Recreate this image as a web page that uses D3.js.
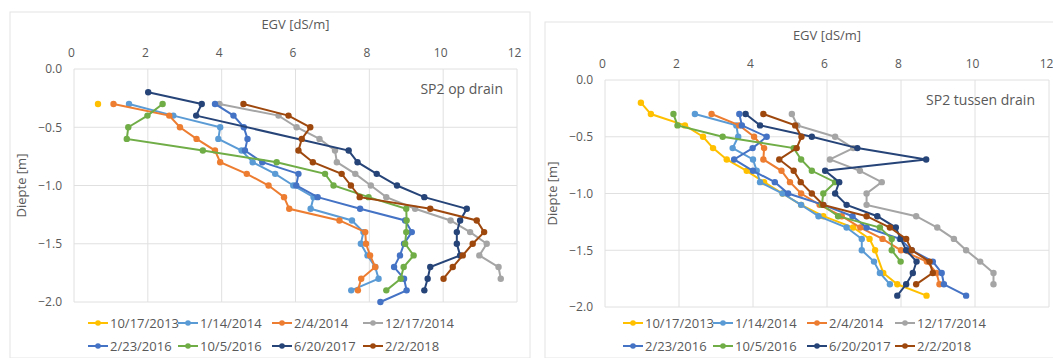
<!DOCTYPE html>
<html><head><meta charset="utf-8">
<script src="https://cdn.jsdelivr.net/npm/d3@7"></script>
<style>body{margin:0;background:#fff}svg{display:block;font-family:"Open Sans",sans-serif}</style>
</head><body><svg id="c" width="1053" height="358"></svg>
<script>
const dates = ["10/17/2013","1/14/2014","2/4/2014","12/17/2014","2/23/2016","10/5/2016","6/20/2017","2/2/2018"];
const colors = ["#FFC000","#5B9BD5","#ED7D31","#A5A5A5","#4472C4","#70AD47","#264478","#9E480E"];
const xTicks = [0,2,4,6,8,10,12];
const yTicks = [0,-0.5,-1,-1.5,-2];

// SP2 op drain : [EGV, depth]
const op_20131017 = [[0.65,-0.3]];
const op_20140114 = [[1.49,-0.3],[2.69,-0.4],[3.96,-0.5],[3.91,-0.6],[4.54,-0.7],[4.84,-0.8],[5.45,-0.9],[5.94,-1.0],[6.49,-1.1],[6.41,-1.2],[7.53,-1.3],[7.84,-1.4],[7.77,-1.5],[7.95,-1.6],[8.16,-1.7],[8.25,-1.8],[7.51,-1.9]];
const op_20140204 = [[1.07,-0.3],[2.58,-0.4],[2.87,-0.5],[3.32,-0.6],[3.82,-0.7],[3.96,-0.8],[4.68,-0.9],[5.27,-1.0],[5.69,-1.1],[5.83,-1.2],[7.19,-1.3],[7.89,-1.4],[7.91,-1.5],[8.02,-1.6],[8.16,-1.7],[7.78,-1.8],[7.69,-1.9]];
const op_20141217 = [[3.94,-0.3],[5.54,-0.4],[6.03,-0.5],[6.65,-0.6],[7.07,-0.7],[7.12,-0.8],[7.62,-0.9],[8.04,-1.0],[8.46,-1.1],[9.24,-1.2],[10.2,-1.3],[10.73,-1.4],[11.18,-1.5],[10.98,-1.6],[11.5,-1.7],[11.56,-1.8]];
const op_20160223 = [[3.82,-0.3],[4.32,-0.4],[4.6,-0.5],[4.7,-0.6],[4.63,-0.7],[5.1,-0.8],[6.08,-0.9],[6.02,-1.0],[6.6,-1.1],[7.75,-1.2],[8.97,-1.3],[9.15,-1.4],[8.94,-1.5],[8.83,-1.6],[8.67,-1.7],[8.94,-1.8],[9.01,-1.9],[8.3,-2.0]];
const op_20161005 = [[2.40,-0.3],[1.99,-0.4],[1.47,-0.5],[1.43,-0.6],[3.49,-0.7],[5.49,-0.8],[6.8,-0.9],[7.03,-1.0],[7.98,-1.1],[9.0,-1.2],[9.01,-1.3],[9.0,-1.4],[8.97,-1.5],[9.2,-1.6],[8.93,-1.7],[8.85,-1.8],[8.46,-1.9]];
const op_20170620 = [[2.01,-0.2],[3.46,-0.3],[3.31,-0.4],[7.44,-0.7],[7.68,-0.8],[8.2,-0.9],[8.75,-1.0],[9.49,-1.1],[10.64,-1.2],[10.46,-1.3],[10.37,-1.4],[10.37,-1.5],[10.46,-1.6],[9.65,-1.7],[9.58,-1.8],[9.49,-1.9]];
const op_20180202 = [[4.59,-0.3],[5.81,-0.4],[6.4,-0.5],[6.17,-0.6],[6.08,-0.7],[6.47,-0.8],[7.25,-0.9],[7.5,-1.0],[7.74,-1.1],[9.65,-1.2],[10.91,-1.3],[11.11,-1.4],[10.8,-1.5],[10.53,-1.6],[10.26,-1.7],[10.01,-1.8]];

// SP2 tussen drain : [EGV, depth]
const tu_20131017 = [[0.97,-0.2],[1.24,-0.3],[2.16,-0.4],[2.65,-0.5],[2.92,-0.6],[3.29,-0.7],[3.83,-0.8],[4.3,-0.9],[4.8,-1.0],[5.3,-1.1],[5.9,-1.2],[6.71,-1.3],[7.15,-1.4],[7.3,-1.5],[7.52,-1.7],[7.9,-1.8],[8.69,-1.9]];
const tu_20140114 = [[2.43,-0.3],[3.55,-0.4],[3.6,-0.5],[3.45,-0.6],[4.0,-0.7],[4.1,-0.8],[4.19,-0.9],[4.8,-1.0],[5.3,-1.1],[5.77,-1.2],[6.53,-1.3],[6.94,-1.4],[6.94,-1.5],[7.27,-1.6],[7.43,-1.7],[7.7,-1.8]];
const tu_20140204 = [[2.88,-0.3],[3.63,-0.4],[4.03,-0.5],[4.3,-0.6],[4.28,-0.7],[4.77,-0.8],[5.0,-0.9],[5.3,-1.0],[5.8,-1.1],[6.4,-1.2],[6.9,-1.3],[7.5,-1.4],[8.0,-1.5],[8.7,-1.6],[8.96,-1.7],[9.04,-1.8]];
const tu_20141217 = [[5.05,-0.3],[5.2,-0.4],[6.22,-0.5],[6.71,-0.6],[6.08,-0.7],[6.89,-0.8],[7.48,-0.9],[7.07,-1.0],[7.07,-1.1],[8.41,-1.2],[8.98,-1.3],[9.43,-1.4],[9.76,-1.5],[10.14,-1.6],[10.5,-1.7],[10.5,-1.8]];
const tu_20160223 = [[3.63,-0.3],[3.7,-0.4],[4.37,-0.5],[3.99,-0.6],[3.49,-0.7],[4.0,-0.8],[4.59,-0.9],[4.95,-1.0],[5.9,-1.1],[6.69,-1.2],[7.07,-1.3],[7.97,-1.4],[8.29,-1.5],[8.86,-1.6],[9.1,-1.7],[9.16,-1.8],[9.76,-1.9]];
const tu_20161005 = [[1.85,-0.3],[1.96,-0.4],[3.18,-0.5],[5.1,-0.6],[5.3,-0.7],[5.59,-0.8],[6.22,-0.9],[5.9,-1.0],[5.86,-1.1],[6.3,-1.2],[7.43,-1.3],[7.75,-1.4],[7.75,-1.5],[7.99,-1.6]];
const tu_20170620 = [[3.8,-0.3],[4.19,-0.4],[5.59,-0.5],[6.82,-0.6],[8.68,-0.7],[5.95,-0.8],[6.33,-0.9],[6.22,-1.0],[6.53,-1.1],[7.36,-1.2],[7.86,-1.3],[7.99,-1.4],[8.14,-1.5],[8.42,-1.6],[8.32,-1.7],[8.14,-1.8],[7.9,-1.9]];
const tu_20180202 = [[4.28,-0.3],[5.14,-0.4],[5.31,-0.5],[5.18,-0.6],[4.71,-0.7],[5.1,-0.8],[5.29,-0.9],[5.59,-1.0],[5.9,-1.1],[7.07,-1.2],[7.7,-1.3],[8.14,-1.4],[8.29,-1.5],[8.77,-1.6],[8.86,-1.7],[8.41,-1.8]];

const opSeries = [op_20131017,op_20140114,op_20140204,op_20141217,op_20160223,op_20161005,op_20170620,op_20180202];
const tuSeries = [tu_20131017,tu_20140114,tu_20140204,tu_20141217,tu_20160223,tu_20161005,tu_20170620,tu_20180202];

const svg = d3.select("#c");
const fmtY = d3.format(".1f");

function panel(cfg){
  const g = svg.append("g");
  g.append("rect").attr("x",cfg.box[0]).attr("y",cfg.box[1]).attr("width",cfg.box[2]).attr("height",cfg.box[3])
    .attr("fill","none").attr("stroke","#e4e4e4");
  const x = d3.scaleLinear().domain([0,12]).range([cfg.left,cfg.right]);
  const y = d3.scaleLinear().domain([0,-2]).range([cfg.top,cfg.bottom]);
  g.selectAll(".gx").data(xTicks).join("line").attr("x1",d=>x(d)).attr("x2",d=>x(d)).attr("y1",cfg.top).attr("y2",cfg.bottom).attr("stroke","#e0e0e0");
  g.selectAll(".gy").data(yTicks).join("line").attr("y1",d=>y(d)).attr("y2",d=>y(d)).attr("x1",cfg.left).attr("x2",cfg.right).attr("stroke","#e0e0e0");
  const ax = g.append("g").attr("transform",`translate(0,${cfg.top-12})`).call(d3.axisTop(x).tickValues(xTicks).tickSize(0).tickPadding(0));
  ax.select(".domain").remove();
  ax.selectAll("text").attr("fill","#595959").attr("font-size",12).attr("font-family","Open Sans").attr("dx",-3);
  const ay = g.append("g").attr("transform",`translate(${cfg.left-12},0)`).call(d3.axisLeft(y).tickValues(yTicks).tickFormat(fmtY).tickSize(0).tickPadding(0));
  ay.select(".domain").remove();
  ay.selectAll("text").attr("fill","#595959").attr("font-size",12).attr("font-family","Open Sans");
  g.append("text").attr("x",(cfg.left+cfg.right)/2).attr("y",cfg.top-40).attr("text-anchor","middle").attr("fill","#595959").attr("font-size",13).text("EGV [dS/m]");
  g.append("text").attr("transform",`translate(${cfg.left-48},${(cfg.top+cfg.bottom)/2}) rotate(-90)`).attr("text-anchor","middle").attr("fill","#595959").attr("font-size",13).text("Diepte [m]");
  g.append("text").attr("x",cfg.right-14).attr("y",cfg.top+25).attr("text-anchor","end").attr("fill","#595959").attr("font-size",14).text(cfg.title);
  const line = d3.line().x(d=>x(d[0])).y(d=>y(d[1]));
  cfg.series.forEach((s,i)=>{
    const sg = g.append("g");
    sg.append("path").datum(s).attr("d",line).attr("fill","none").attr("stroke",colors[i]).attr("stroke-width",2);
    sg.selectAll("circle").data(s).join("circle").attr("cx",d=>x(d[0])).attr("cy",d=>y(d[1])).attr("r",3.2).attr("fill",colors[i]);
  });
  const lg = g.append("g");
  dates.forEach((dname,i)=>{
    const cx = cfg.legX[i%4], cy = cfg.legY[Math.floor(i/4)];
    lg.append("line").attr("x1",cx).attr("x2",cx+20).attr("y1",cy).attr("y2",cy).attr("stroke",colors[i]).attr("stroke-width",2);
    lg.append("circle").attr("cx",cx+10).attr("cy",cy).attr("r",2.8).attr("fill",colors[i]);
    lg.append("text").attr("x",cx+22).attr("y",cy).attr("dy","0.35em").attr("fill","#595959").attr("font-size",13).text(dname);
  });
}

panel({box:[10,12,520,346],left:74,right:517,top:69,bottom:302,title:"SP2 op drain",series:opSeries,legX:[88,178,272,363],legY:[323,346]});
panel({box:[545,22,510,336],left:605,right:1049,top:80,bottom:307,title:"SP2 tussen drain",series:tuSeries,legX:[623,713,807,895],legY:[323,346]});
</script></body></html>
